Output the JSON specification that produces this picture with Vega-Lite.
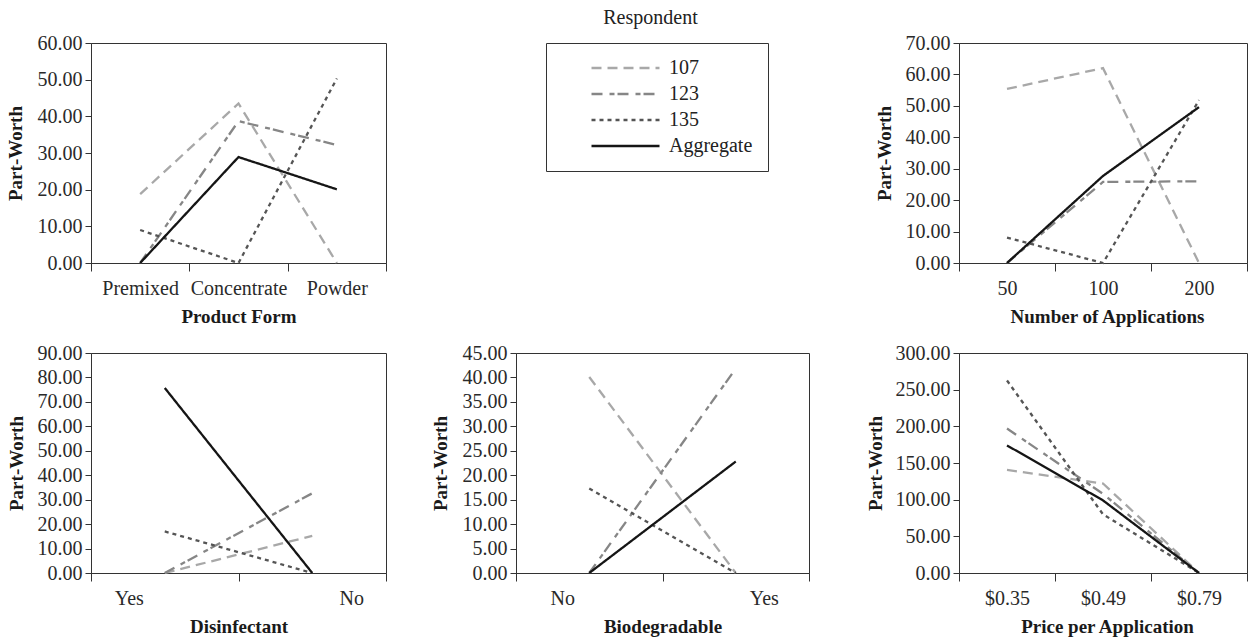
{
  "$schema": "https://vega.github.io/schema/vega-lite/v6.json",
  "autosize": {"type": "pad"},
  "padding": {"left": 5, "top": 8, "right": 0, "bottom": 0},
  "background": "white",
  "datasets": {
    "pw": [
      {"a": "Product Form", "l": "Premixed", "o": 1, "r": "107", "v": 18.8},
      {"a": "Product Form", "l": "Concentrate", "o": 2, "r": "107", "v": 43.5},
      {"a": "Product Form", "l": "Powder", "o": 3, "r": "107", "v": 0},
      {"a": "Product Form", "l": "Premixed", "o": 1, "r": "123", "v": 0},
      {"a": "Product Form", "l": "Concentrate", "o": 2, "r": "123", "v": 38.7},
      {"a": "Product Form", "l": "Powder", "o": 3, "r": "123", "v": 32.2},
      {"a": "Product Form", "l": "Premixed", "o": 1, "r": "135", "v": 9.0},
      {"a": "Product Form", "l": "Concentrate", "o": 2, "r": "135", "v": 0},
      {"a": "Product Form", "l": "Powder", "o": 3, "r": "135", "v": 50.3},
      {"a": "Product Form", "l": "Premixed", "o": 1, "r": "Aggregate", "v": 0},
      {"a": "Product Form", "l": "Concentrate", "o": 2, "r": "Aggregate", "v": 28.9},
      {"a": "Product Form", "l": "Powder", "o": 3, "r": "Aggregate", "v": 20.1},

      {"a": "Number of Applications", "l": "50", "o": 1, "r": "107", "v": 55.4},
      {"a": "Number of Applications", "l": "100", "o": 2, "r": "107", "v": 62.0},
      {"a": "Number of Applications", "l": "200", "o": 3, "r": "107", "v": 0},
      {"a": "Number of Applications", "l": "50", "o": 1, "r": "123", "v": 0},
      {"a": "Number of Applications", "l": "100", "o": 2, "r": "123", "v": 25.8},
      {"a": "Number of Applications", "l": "200", "o": 3, "r": "123", "v": 26.0},
      {"a": "Number of Applications", "l": "50", "o": 1, "r": "135", "v": 8.1},
      {"a": "Number of Applications", "l": "100", "o": 2, "r": "135", "v": 0},
      {"a": "Number of Applications", "l": "200", "o": 3, "r": "135", "v": 51.8},
      {"a": "Number of Applications", "l": "50", "o": 1, "r": "Aggregate", "v": 0},
      {"a": "Number of Applications", "l": "100", "o": 2, "r": "Aggregate", "v": 27.7},
      {"a": "Number of Applications", "l": "200", "o": 3, "r": "Aggregate", "v": 49.6},

      {"a": "Disinfectant", "l": "Yes", "o": 1, "r": "107", "v": 0},
      {"a": "Disinfectant", "l": "No", "o": 2, "r": "107", "v": 15.2},
      {"a": "Disinfectant", "l": "Yes", "o": 1, "r": "123", "v": 0},
      {"a": "Disinfectant", "l": "No", "o": 2, "r": "123", "v": 32.6},
      {"a": "Disinfectant", "l": "Yes", "o": 1, "r": "135", "v": 17.0},
      {"a": "Disinfectant", "l": "No", "o": 2, "r": "135", "v": 0},
      {"a": "Disinfectant", "l": "Yes", "o": 1, "r": "Aggregate", "v": 75.7},
      {"a": "Disinfectant", "l": "No", "o": 2, "r": "Aggregate", "v": 0},

      {"a": "Biodegradable", "l": "No", "o": 1, "r": "107", "v": 40.1},
      {"a": "Biodegradable", "l": "Yes", "o": 2, "r": "107", "v": 0},
      {"a": "Biodegradable", "l": "No", "o": 1, "r": "123", "v": 0},
      {"a": "Biodegradable", "l": "Yes", "o": 2, "r": "123", "v": 41.8},
      {"a": "Biodegradable", "l": "No", "o": 1, "r": "135", "v": 17.3},
      {"a": "Biodegradable", "l": "Yes", "o": 2, "r": "135", "v": 0},
      {"a": "Biodegradable", "l": "No", "o": 1, "r": "Aggregate", "v": 0},
      {"a": "Biodegradable", "l": "Yes", "o": 2, "r": "Aggregate", "v": 22.8},

      {"a": "Price per Application", "l": "$0.35", "o": 1, "r": "107", "v": 140.5},
      {"a": "Price per Application", "l": "$0.49", "o": 2, "r": "107", "v": 122.0},
      {"a": "Price per Application", "l": "$0.79", "o": 3, "r": "107", "v": 0},
      {"a": "Price per Application", "l": "$0.35", "o": 1, "r": "123", "v": 197.0},
      {"a": "Price per Application", "l": "$0.49", "o": 2, "r": "123", "v": 108.0},
      {"a": "Price per Application", "l": "$0.79", "o": 3, "r": "123", "v": 0},
      {"a": "Price per Application", "l": "$0.35", "o": 1, "r": "135", "v": 262.5},
      {"a": "Price per Application", "l": "$0.49", "o": 2, "r": "135", "v": 80.0},
      {"a": "Price per Application", "l": "$0.79", "o": 3, "r": "135", "v": 0},
      {"a": "Price per Application", "l": "$0.35", "o": 1, "r": "Aggregate", "v": 174.0},
      {"a": "Price per Application", "l": "$0.49", "o": 2, "r": "Aggregate", "v": 99.0},
      {"a": "Price per Application", "l": "$0.79", "o": 3, "r": "Aggregate", "v": 0}
    ]
  },
  "data": {"name": "pw"},
  "columns": 3,
  "bounds": "flush",
  "spacing": {"row": 90, "column": 130},
  "concat": [
    {
      "width": 295, "height": 220,
      "transform": [{"filter": "datum.a == 'Product Form'"}],
      "mark": {"type": "line", "strokeWidth": 2.3},
      "encoding": {
        "x": {"field": "l", "type": "nominal", "sort": ["Premixed", "Concentrate", "Powder"], "bandPosition": 0.5,
              "scale": {"type": "band", "paddingInner": 0, "paddingOuter": 0},
              "axis": {"title": "Product Form", "tickBand": "extent", "titleX": 147.5}},
        "y": {"field": "v", "type": "quantitative", "scale": {"domain": [0, 60], "nice": false},
              "axis": {"title": "Part-Worth", "values": [0, 10, 20, 30, 40, 50, 60], "format": ".2f"}},
        "order": {"field": "o", "type": "quantitative"},
        "color": {"field": "r", "type": "nominal",
                  "scale": {"domain": ["107", "123", "135", "Aggregate"], "range": ["#a8a8a8", "#868686", "#555555", "#151515"]}},
        "strokeDash": {"field": "r", "type": "nominal",
                  "scale": {"domain": ["107", "123", "135", "Aggregate"], "range": [[10, 6], [11, 7, 5, 3], [4, 4], [1, 0]]}}
      }
    },
    {
      "width": 313, "height": 220,
      "view": {"stroke": null},
      "title": {"text": "Respondent", "fontSize": 20, "fontWeight": "normal", "font": "Liberation Serif", "color": "#222", "anchor": "middle", "dx": -22, "offset": -5, "baseline": "bottom"},
      "transform": [{"filter": "false"}],
      "mark": {"type": "line", "strokeWidth": 2.3},
      "encoding": {
        "color": {"field": "r", "type": "nominal",
                  "scale": {"domain": ["107", "123", "135", "Aggregate"], "range": ["#a8a8a8", "#868686", "#555555", "#151515"]},
                  "legend": {"orient": "none", "legendX": 455, "legendY": 0, "title": null, "direction": "vertical", "strokeColor": "#333", "padding": 15, "symbolType": "stroke", "symbolSize": 4624, "symbolStrokeWidth": 2.3, "symbolOffset": 29, "labelFontSize": 20, "labelFont": "Liberation Serif", "labelColor": "#222", "labelOffset": 8, "clipHeight": 20, "rowPadding": 6}},
        "strokeDash": {"field": "r", "type": "nominal",
                  "scale": {"domain": ["107", "123", "135", "Aggregate"], "range": [[10, 6], [11, 7, 5, 3], [4, 4], [1, 0]]},
                  "legend": {"orient": "none", "legendX": 455, "legendY": 0, "title": null, "direction": "vertical", "strokeColor": "#333", "padding": 15, "symbolType": "stroke", "symbolSize": 4624, "symbolStrokeWidth": 2.3, "symbolOffset": 29, "labelFontSize": 20, "labelFont": "Liberation Serif", "labelColor": "#222", "labelOffset": 8, "clipHeight": 20, "rowPadding": 6}}
      }
    },
    {
      "width": 288, "height": 220,
      "transform": [{"filter": "datum.a == 'Number of Applications'"}],
      "mark": {"type": "line", "strokeWidth": 2.3},
      "encoding": {
        "x": {"field": "l", "type": "nominal", "sort": ["50", "100", "200"], "bandPosition": 0.5,
              "scale": {"type": "band", "paddingInner": 0, "paddingOuter": 0},
              "axis": {"title": "Number of Applications", "tickBand": "extent", "titleX": 148}},
        "y": {"field": "v", "type": "quantitative", "scale": {"domain": [0, 70], "nice": false},
              "axis": {"title": "Part-Worth", "values": [0, 10, 20, 30, 40, 50, 60, 70], "format": ".2f", "titleX": -69}},
        "order": {"field": "o", "type": "quantitative"},
        "color": {"field": "r", "type": "nominal",
                  "scale": {"domain": ["107", "123", "135", "Aggregate"], "range": ["#a8a8a8", "#868686", "#555555", "#151515"]}},
        "strokeDash": {"field": "r", "type": "nominal",
                  "scale": {"domain": ["107", "123", "135", "Aggregate"], "range": [[10, 6], [11, 7, 5, 3], [4, 4], [1, 0]]}}
      }
    },
    {
      "width": 295, "height": 220,
      "transform": [{"filter": "datum.a == 'Disinfectant'"}],
      "mark": {"type": "line", "strokeWidth": 2.3},
      "encoding": {
        "x": {"field": "l", "type": "nominal", "sort": ["Yes", "No"], "bandPosition": 0.5,
              "scale": {"type": "band", "paddingInner": 0, "paddingOuter": 0},
              "axis": {"title": "Disinfectant", "tickBand": "extent", "titleX": 147.5,
                       "labelOffset": {"condition": {"test": "datum.value == 'Yes'", "value": -36}, "value": 39}}},
        "y": {"field": "v", "type": "quantitative", "scale": {"domain": [0, 90], "nice": false},
              "axis": {"title": "Part-Worth", "values": [0, 10, 20, 30, 40, 50, 60, 70, 80, 90], "format": ".2f", "titleX": -69}},
        "order": {"field": "o", "type": "quantitative"},
        "color": {"field": "r", "type": "nominal",
                  "scale": {"domain": ["107", "123", "135", "Aggregate"], "range": ["#a8a8a8", "#868686", "#555555", "#151515"]}},
        "strokeDash": {"field": "r", "type": "nominal",
                  "scale": {"domain": ["107", "123", "135", "Aggregate"], "range": [[10, 6], [11, 7, 5, 3], [4, 4], [1, 0]]}}
      }
    },
    {
      "width": 293, "height": 220,
      "transform": [{"filter": "datum.a == 'Biodegradable'"}],
      "mark": {"type": "line", "strokeWidth": 2.3},
      "encoding": {
        "x": {"field": "l", "type": "nominal", "sort": ["No", "Yes"], "bandPosition": 0.5,
              "scale": {"type": "band", "paddingInner": 0, "paddingOuter": 0},
              "axis": {"title": "Biodegradable", "tickBand": "extent", "titleX": 146.5,
                       "labelOffset": {"condition": {"test": "datum.value == 'No'", "value": -27}, "value": 28}}},
        "y": {"field": "v", "type": "quantitative", "scale": {"domain": [0, 45], "nice": false},
              "axis": {"title": "Part-Worth", "values": [0, 5, 10, 15, 20, 25, 30, 35, 40, 45], "format": ".2f"}},
        "order": {"field": "o", "type": "quantitative"},
        "color": {"field": "r", "type": "nominal",
                  "scale": {"domain": ["107", "123", "135", "Aggregate"], "range": ["#a8a8a8", "#868686", "#555555", "#151515"]}},
        "strokeDash": {"field": "r", "type": "nominal",
                  "scale": {"domain": ["107", "123", "135", "Aggregate"], "range": [[10, 6], [11, 7, 5, 3], [4, 4], [1, 0]]}}
      }
    },
    {
      "width": 288, "height": 220,
      "transform": [{"filter": "datum.a == 'Price per Application'"}],
      "mark": {"type": "line", "strokeWidth": 2.3},
      "encoding": {
        "x": {"field": "l", "type": "nominal", "sort": ["$0.35", "$0.49", "$0.79"], "bandPosition": 0.5,
              "scale": {"type": "band", "paddingInner": 0, "paddingOuter": 0},
              "axis": {"title": "Price per Application", "tickBand": "extent", "titleX": 148}},
        "y": {"field": "v", "type": "quantitative", "scale": {"domain": [0, 300], "nice": false},
              "axis": {"title": "Part-Worth", "values": [0, 50, 100, 150, 200, 250, 300], "format": ".2f", "titleX": -78}},
        "order": {"field": "o", "type": "quantitative"},
        "color": {"field": "r", "type": "nominal",
                  "scale": {"domain": ["107", "123", "135", "Aggregate"], "range": ["#a8a8a8", "#868686", "#555555", "#151515"]}},
        "strokeDash": {"field": "r", "type": "nominal",
                  "scale": {"domain": ["107", "123", "135", "Aggregate"], "range": [[10, 6], [11, 7, 5, 3], [4, 4], [1, 0]]}}
      }
    }
  ],
  "config": {
    "font": "Liberation Serif",
    "view": {"stroke": "#333", "strokeWidth": 1},
    "axis": {
      "grid": false,
      "labelFont": "Liberation Serif", "labelFontSize": 20, "labelColor": "#2a2a2a",
      "titleFont": "Liberation Serif", "titleFontSize": 19, "titleFontWeight": "bold", "titleColor": "#1a1a1a",
      "domainColor": "#333", "tickColor": "#333", "domainWidth": 1, "tickWidth": 1
    },
    "axisX": {"tickSize": 8, "labelPadding": 7, "labelAngle": 0, "titleY": 59, "titleBaseline": "alphabetic"},
    "axisY": {"tickSize": 6, "labelPadding": 3, "titleX": -70, "titleY": 110, "titleBaseline": "alphabetic"}
  }
}
